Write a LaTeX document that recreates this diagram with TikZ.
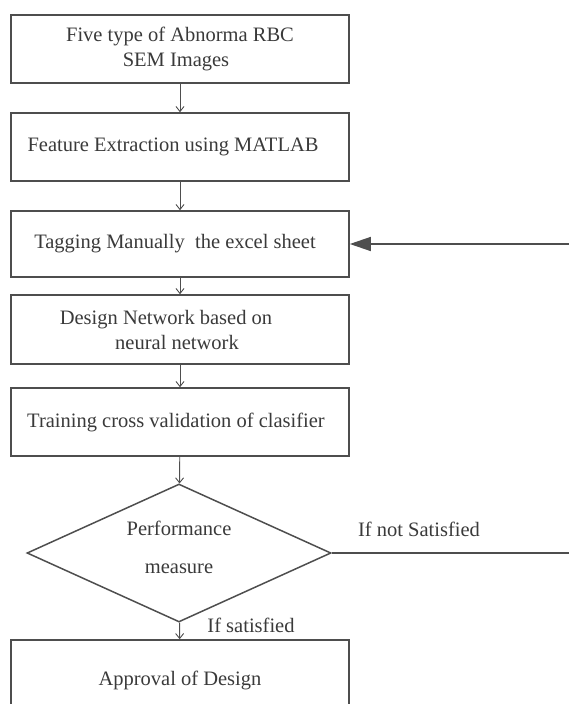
\documentclass[tikz,border=0pt]{standalone}
\usepackage{fontspec}
\setmainfont{Liberation Serif}
\usetikzlibrary{arrows.meta, positioning, shapes.geometric}
\definecolor{edge}{HTML}{4E4E4E}
\definecolor{ink} {HTML}{3A3A3A}

\begin{document}
\begin{tikzpicture}[x=1pt, y=-1pt, font=\fontsize{20.5}{25}\selectfont, text=ink,
    stepbox/.style={draw=edge, line width=1.6pt, minimum width=338pt, minimum height=68pt, align=center, inner sep=0pt},
    link/.style={-{Straight Barb[length=5pt, width=8pt]}, edge, line width=0.9pt}]
  \useasboundingbox (0,0) rectangle (569,704);
  \node[stepbox] (sem) at (180,49) {Five type of Abnorma RBC\\SEM Images\hspace*{8pt}};
  \node[stepbox] (feat) at (180,147) {Feature Extraction using MATLAB\hspace*{14pt}};
  \node[stepbox, minimum height=66pt] (tag) at (180,244) {Tagging Manually\ \ the excel sheet\hspace*{10pt}};
  \node[stepbox, minimum height=69pt] (net) at (180,329.5) {Design Network based on\hspace*{28pt}\\neural network\hspace*{6pt}};
  \node[stepbox] (train) at (180,422) {Training cross validation of clasifier\hspace*{8pt}};
  \node[draw=edge, line width=1.5pt, diamond, aspect=2.2, minimum width=304pt, minimum height=138pt, inner sep=0pt, align=center] (perf) at (179,553)
    {Performance\\[13pt]measure\\[-13pt]\mbox{}};
  \node[stepbox, minimum height=80pt] (ok) at (180,680) {Approval of Design};
  \node (nok) at (419,529) {If not Satisfied};
  \node (yes) at (251,625) {If satisfied};
  \coordinate (backR) at (569,553);
  \coordinate (backT) at (569,244);
  \draw[link] (sem) -- (feat);
  \draw[link] (feat) -- (tag);
  \draw[link] (tag) -- (net);
  \draw[link] (net) -- (train);
  \draw[link] (train) -- (perf);
  \draw[link] (perf) -- (ok);
  \draw[edge, line width=1.5pt] (perf.east) -- (backR);
  \draw[-{Triangle[length=21pt, width=14pt]}, edge, line width=1.5pt] (backT) -- (tag.east);
\end{tikzpicture}
\end{document}
